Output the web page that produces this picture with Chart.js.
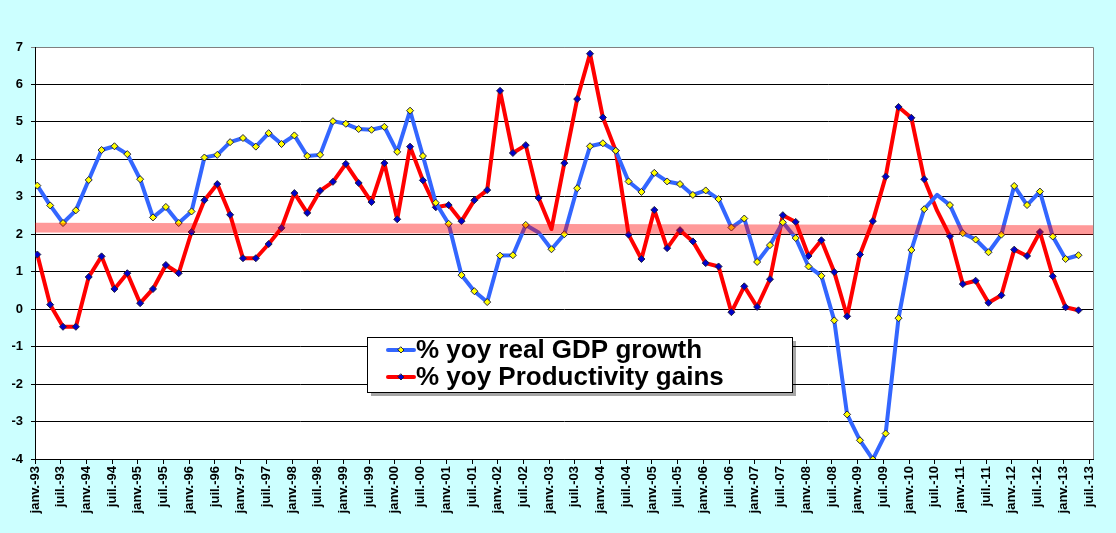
<!DOCTYPE html>
<html>
<head>
<meta charset="utf-8">
<script src="https://cdn.jsdelivr.net/npm/chart.js@4.4.1/dist/chart.umd.min.js"></script>
<style>
  body { margin: 0; background: #CCFFFF; }
  #wrap { width: 1116px; height: 533px; position: relative; }
</style>
</head>
<body>
<div id="wrap"><canvas id="grafico"></canvas></div>
<script>
// Valeurs trimestrielles, de janv.-93 à avr.-13
const gdpGrowth = [
  3.30, 2.77, 2.30, 2.64, 3.45, 4.25, 4.35, 4.14, 3.47, 2.45,
  2.73, 2.30, 2.61, 4.05, 4.12, 4.46, 4.57, 4.34, 4.70, 4.41,
  4.64, 4.09, 4.12, 5.02, 4.95, 4.81, 4.79, 4.87, 4.20, 5.30,
  4.09, 2.84, 2.28, 0.91, 0.48, 0.19, 1.43, 1.44, 2.25, 2.05,
  1.60, 2.00, 3.23, 4.35, 4.43, 4.23, 3.41, 3.13, 3.64, 3.41,
  3.34, 3.05, 3.17, 2.94, 2.18, 2.42, 1.26, 1.71, 2.32, 1.90,
  1.14, 0.89, -0.30, -2.81, -3.50, -4.01, -3.32, -0.24, 1.58, 2.67,
  3.05, 2.78, 2.03, 1.86, 1.52, 1.99, 3.29, 2.78, 3.14, 1.94,
  1.34, 1.44
];

const productivity = [
  1.46, 0.12, -0.47, -0.47, 0.86, 1.41, 0.54, 0.96, 0.16, 0.54,
  1.18, 0.96, 2.06, 2.91, 3.34, 2.52, 1.36, 1.36, 1.74, 2.17,
  3.10, 2.57, 3.16, 3.40, 3.88, 3.37, 2.86, 3.90, 2.40, 4.34,
  3.44, 2.72, 2.78, 2.35, 2.91, 3.18, 5.83, 4.17, 4.38, 2.97,
  2.14, 3.90, 5.61, 6.82, 5.12, 4.23, 1.99, 1.34, 2.65, 1.63,
  2.11, 1.81, 1.23, 1.14, -0.08, 0.61, 0.06, 0.80, 2.51, 2.33,
  1.42, 1.84, 0.99, -0.19, 1.46, 2.35, 3.54, 5.40, 5.11, 3.47,
  2.63, 1.95, 0.67, 0.76, 0.17, 0.37, 1.59, 1.42, 2.06, 0.88,
  0.05, -0.03
];

// points sans marqueur dans l'original
const gdpNoMarker = [39, 70];
const prodNoMarker = [40, 70];

const tickLabels = [
  "janv.-93", "juil.-93", "janv.-94", "juil.-94", "janv.-95", "juil.-95",
  "janv.-96", "juil.-96", "janv.-97", "juil.-97", "janv.-98", "juil.-98",
  "janv.-99", "juil.-99", "janv.-00", "juil.-00", "janv.-01", "juil.-01",
  "janv.-02", "juil.-02", "janv.-03", "juil.-03", "janv.-04", "juil.-04",
  "janv.-05", "juil.-05", "janv.-06", "juil.-06", "janv.-07", "juil.-07",
  "janv.-08", "juil.-08", "janv.-09", "juil.-09", "janv.-10", "juil.-10",
  "janv.-11", "juil.-11", "janv.-12", "juil.-12", "janv.-13", "juil.-13"
];

// bande rose autour de 2 % (bas, haut) à gauche et à droite
const bandLeft = [2.05, 2.31];
const bandRight = [1.99, 2.24];

const legendItems = [
  { text: "% yoy real GDP growth", line: "#3366FF", marker: "#FFFF00" },
  { text: "% yoy Productivity gains", line: "#FF0000", marker: "#0000CC" }
];

Chart.defaults.font.family = '"Liberation Sans", Arial, sans-serif';
Chart.defaults.color = "#000";

function diamond(ctx, x, y, r, fill) {
  ctx.beginPath();
  ctx.moveTo(x, y - r);
  ctx.lineTo(x + r, y);
  ctx.lineTo(x, y + r);
  ctx.lineTo(x - r, y);
  ctx.closePath();
  ctx.fillStyle = fill;
  ctx.fill();
  ctx.lineWidth = 1;
  ctx.strokeStyle = "#222244";
  ctx.stroke();
}

const fondPlugin = {
  id: "fond",
  beforeDraw(chart) {
    const { ctx, chartArea: a } = chart;
    ctx.save();
    ctx.fillStyle = "#FFFFFF";
    ctx.fillRect(a.left, a.top, a.right - a.left, a.bottom - a.top);
    ctx.strokeStyle = "#808080";
    ctx.lineWidth = 1;
    ctx.beginPath();
    ctx.moveTo(a.left, a.top + 0.5);
    ctx.lineTo(a.right + 0.5, a.top + 0.5);
    ctx.lineTo(a.right + 0.5, a.bottom);
    ctx.stroke();
    ctx.restore();
  }
};

const bandePlugin = {
  id: "bande",
  afterDatasetsDraw(chart) {
    const { ctx, chartArea: a } = chart;
    const y = chart.scales.y;
    ctx.save();
    ctx.fillStyle = "rgba(255, 0, 0, 0.4)";
    ctx.beginPath();
    ctx.moveTo(a.left, y.getPixelForValue(bandLeft[1]));
    ctx.lineTo(a.right, y.getPixelForValue(bandRight[1]));
    ctx.lineTo(a.right, y.getPixelForValue(bandRight[0]));
    ctx.lineTo(a.left, y.getPixelForValue(bandLeft[0]));
    ctx.closePath();
    ctx.fill();
    ctx.restore();
  }
};

const legendePlugin = {
  id: "legende",
  afterDraw(chart) {
    const ctx = chart.ctx;
    const bx = 367, by = 337, bw = 425, bh = 55;
    ctx.save();
    ctx.fillStyle = "rgba(0, 0, 0, 0.35)";
    ctx.fillRect(bx + 4, by + 4, bw, bh);
    ctx.fillStyle = "#FFFFFF";
    ctx.fillRect(bx, by, bw, bh);
    ctx.strokeStyle = "#000";
    ctx.lineWidth = 1;
    ctx.strokeRect(bx + 0.5, by + 0.5, bw, bh);

    ctx.font = 'bold 26px "Liberation Sans", Arial, sans-serif';
    ctx.textBaseline = "middle";
    legendItems.forEach((it, k) => {
      const cy = by + 13 + k * 27;
      ctx.strokeStyle = it.line;
      ctx.lineWidth = 4;
      ctx.lineCap = "round";
      ctx.beginPath();
      ctx.moveTo(388, cy);
      ctx.lineTo(414, cy);
      ctx.stroke();
      diamond(ctx, 401, cy, 3, it.marker);
      ctx.fillStyle = "#000";
      ctx.fillText(it.text, 416, cy + 1);
    });
    ctx.restore();
  }
};

function serie(values, noMarker, color, markerColor) {
  return {
    data: values.map((v, i) => ({ x: i, y: v })),
    borderColor: color,
    borderWidth: 4,
    borderJoinStyle: "round",
    borderCapStyle: "round",
    tension: 0,
    pointStyle: "rectRot",
    pointRadius: ctx => noMarker.includes(ctx.dataIndex) ? 0 : 3.5,
    pointBackgroundColor: markerColor,
    pointBorderColor: "#222244",
    pointBorderWidth: 1,
    fill: false
  };
}

new Chart(document.getElementById("grafico"), {
  type: "line",
  data: {
    datasets: [
      serie(gdpGrowth, gdpNoMarker, "#3366FF", "#FFFF00"),
      serie(productivity, prodNoMarker, "#FF0000", "#0000CC")
    ]
  },
  options: {
    responsive: true,
    maintainAspectRatio: false,
    animation: false,
    events: [],
    layout: { padding: { top: 47, right: 23, left: 0, bottom: 0 } },
    plugins: {
      legend: { display: false },
      tooltip: { enabled: false }
    },
    scales: {
      x: {
        type: "linear",
        min: -0.18,
        max: 82.13,
        afterBuildTicks: scale => {
          scale.ticks = tickLabels.map((l, k) => ({ value: 2 * k - 0.18 }));
        },
        afterFit: scale => { scale.height = 74; },
        ticks: {
          autoSkip: false,
          minRotation: 90,
          maxRotation: 90,
          padding: 2,
          font: { size: 13, weight: "bold" },
          callback: (v, idx) => tickLabels[idx]
        },
        grid: {
          drawOnChartArea: false,
          drawTicks: true,
          tickLength: 5,
          color: "#000"
        },
        border: { color: "#000", width: 1 }
      },
      y: {
        min: -4,
        max: 7,
        afterFit: scale => { scale.width = 35; },
        ticks: {
          stepSize: 1,
          padding: 8,
          font: { size: 13, weight: "bold" }
        },
        grid: {
          color: ctx => ctx.tick && ctx.tick.value === 7 ? "#808080" : "#000",
          tickLength: 4,
          lineWidth: 1
        },
        border: { color: "#000", width: 1 }
      }
    }
  },
  plugins: [fondPlugin, bandePlugin, legendePlugin]
});
</script>
</body>
</html>
